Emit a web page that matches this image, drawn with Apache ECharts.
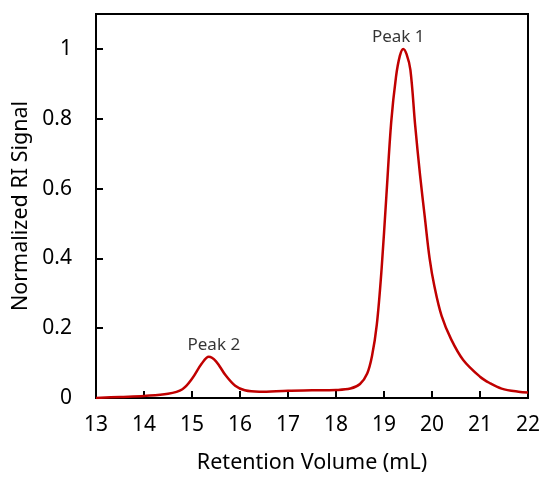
<!DOCTYPE html>
<html>
<head>
<meta charset="utf-8">
<script src="https://cdn.jsdelivr.net/npm/echarts@6/dist/echarts.min.js"></script>
<style>
  html, body { margin: 0; padding: 0; background: #fff; }
  #main { width: 544px; height: 479px; }
</style>
</head>
<body>
<div id="main"></div>
<script>
// retention volume (mL) and normalized RI signal
var volume = [13, 13.5, 14, 14.5, 14.8, 15.0, 15.2, 15.35, 15.5, 15.7, 15.9, 16.1, 16.4, 17, 17.5, 18,
  18.3, 18.5, 18.65, 18.75, 18.85, 18.95, 19.05, 19.15, 19.25, 19.33, 19.4, 19.47, 19.55, 19.65,
  19.75, 19.85, 19.95, 20.05, 20.2, 20.4, 20.65, 21.0, 21.2, 21.45, 21.8, 22];
var signal = [0.0, 0.003, 0.006, 0.012, 0.025, 0.055, 0.098, 0.118, 0.105, 0.065, 0.035, 0.022, 0.018, 0.021, 0.022, 0.023,
  0.027, 0.040, 0.070, 0.12, 0.21, 0.37, 0.58, 0.79, 0.92, 0.98, 1.0, 0.985, 0.94, 0.78,
  0.64, 0.518, 0.40, 0.32, 0.235, 0.168, 0.109, 0.061, 0.043, 0.027, 0.018, 0.016];
var peakNames = ['Peak 1', 'Peak 2'];
var peakX = [19.4, 15.35];
var peakY = [1.0, 0.118];
var xTicks = [13, 14, 15, 16, 17, 18, 19, 20, 21, 22];
var yTicks = [0, 0.2, 0.4, 0.6, 0.8, 1];

var font = '"Noto Sans", Lato, sans-serif';
var chart = echarts.init(document.getElementById('main'));

var trace = volume.map(function (v, i) { return [v, signal[i]]; });
var peaks = peakNames.map(function (n, i) {
  return { value: [peakX[i], peakY[i]], name: n,
    label: { offset: [i === 0 ? -5 : 5, 0] } };
});

chart.setOption({
  animation: false,
  grid: { left: 96, right: 16, top: 14, bottom: 81, outerBoundsMode: 'none',
    show: true, borderColor: '#000', borderWidth: 2 },
  xAxis: {
    type: 'value', min: 13, max: 22, interval: 1,
    name: 'Retention Volume (mL)', nameLocation: 'middle', nameGap: 54,
    nameTextStyle: { fontFamily: font, fontSize: 21.5, color: '#000' },
    axisLine: { lineStyle: { color: '#000', width: 2 } },
    axisTick: { inside: true, length: 7, lineStyle: { color: '#000', width: 2 } },
    axisLabel: { margin: 17, fontFamily: font, fontSize: 21, color: '#000',
      formatter: function (v) { return xTicks.indexOf(v) >= 0 ? String(v) : ''; } },
    splitLine: { show: false }
  },
  yAxis: {
    type: 'value', min: 0, max: 1.1, interval: 0.2,
    name: 'Normalized RI Signal', nameLocation: 'middle', nameGap: 55,
    nameTextStyle: { fontFamily: font, fontSize: 21.5, color: '#000' },
    axisLine: { lineStyle: { color: '#000', width: 2 } },
    axisTick: { inside: true, length: 7, lineStyle: { color: '#000', width: 2 } },
    axisLabel: { margin: 24, fontFamily: font, fontSize: 21, color: '#000', showMaxLabel: false,
      formatter: function (v) {
        var r = Math.round(v * 10) / 10;
        return yTicks.indexOf(r) >= 0 ? String(r) : '';
      } },
    splitLine: { show: false }
  },
  series: [
    {
      type: 'line', data: trace, smooth: 0.35, showSymbol: false,
      lineStyle: { color: '#c00000', width: 2.5 }
    },
    {
      type: 'scatter', data: peaks, symbolSize: 1, z: 1,
      itemStyle: { color: '#c00000' },
      label: { show: true, position: 'top', distance: 3, formatter: '{b}',
        fontFamily: font, fontSize: 17, color: '#000' }
    }
  ]
});
</script>
</body>
</html>
